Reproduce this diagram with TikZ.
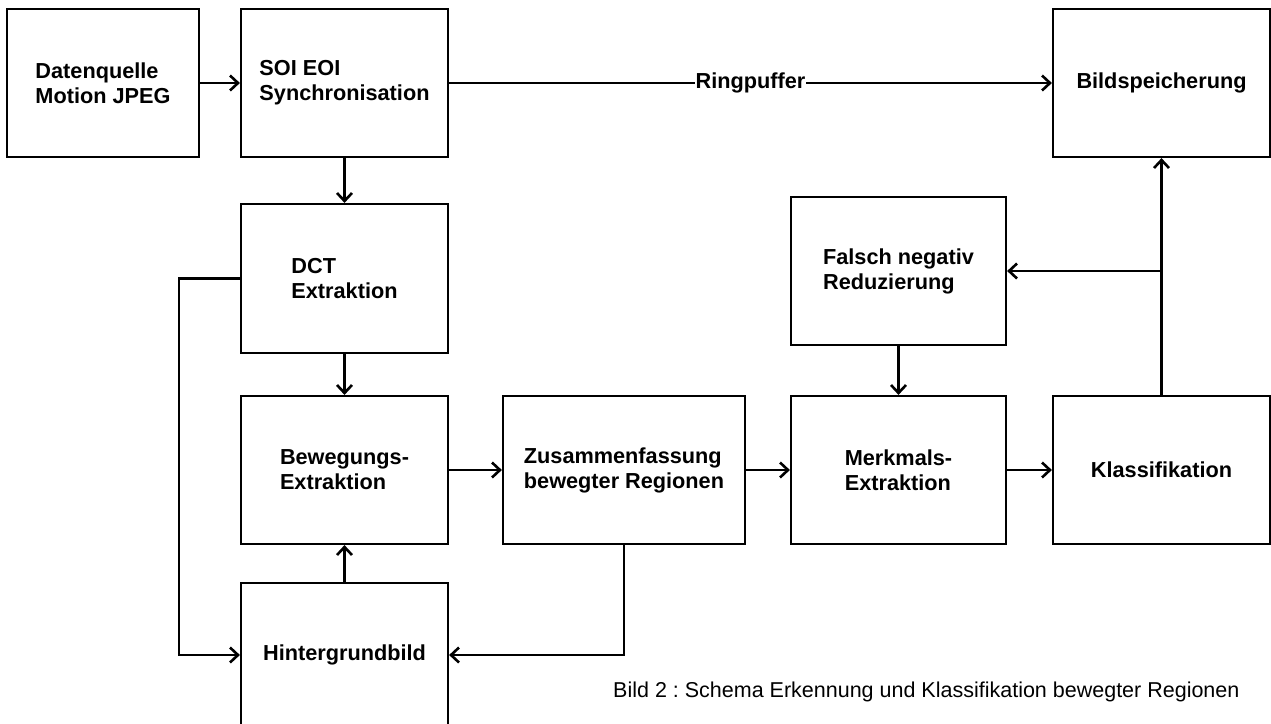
\documentclass[tikz,border=0pt]{standalone}
\usepackage{fontspec}
\setmainfont{Liberation Sans}
\usetikzlibrary{arrows.meta}
\frenchspacing
\begin{document}
\begin{tikzpicture}[x=1pt,y=-1pt,
  box/.style={draw=black,line width=2.2pt,fill=white,inner sep=0pt,align=left,
    font=\fontsize{21.7}{25}\selectfont\bfseries},
  conn/.style={line width=2.2pt},
  arr/.style={conn,-{Straight Barb[length=8pt,width=15pt,line width=2.6pt]}},
  lbl/.style={font=\fontsize{21.7}{25}\selectfont\bfseries,fill=white,inner sep=1pt}]
\useasboundingbox (0,0) rectangle (1271,723);
\clip (0,0) rectangle (1271,723);
\fill[white] (0,0) rectangle (1271,723);
% boxes: center, width, height
\node[box,minimum width=192pt,minimum height=148pt] (dq) at (103,83) {Datenquelle\\Motion JPEG};
\node[box,minimum width=207pt,minimum height=148pt] (soi) at (344.5,83) {SOI EOI\\Synchronisation};
\node[box,minimum width=217pt,minimum height=148pt] (bsp) at (1161.5,83) {Bildspeicherung};
\node[box,minimum width=207pt,minimum height=149pt] (dct) at (344.5,278.5) {DCT\\Extraktion};
\node[box,minimum width=215pt,minimum height=148pt] (fn) at (898.5,271) {Falsch negativ\\Reduzierung};
\node[box,minimum width=207pt,minimum height=148pt] (bew) at (344.5,470) {Bewegungs-\\Extraktion};
\node[box,minimum width=242pt,minimum height=148pt] (zus) at (624,470) {Zusammenfassung\\bewegter Regionen};
\node[box,minimum width=215pt,minimum height=148pt] (mer) at (898.5,470) {Merkmals-\\Extraktion};
\node[box,minimum width=217pt,minimum height=148pt] (kla) at (1161.5,470) {Klassifikation};
\node[box,minimum width=207pt,minimum height=144pt] (hin) at (344.5,655) {Hintergrundbild};
% caption
\node[anchor=base west,inner sep=0pt,font=\fontsize{21.5}{25}\selectfont] (cap) at (613,697)
  {Bild 2 : Schema Erkennung und Klassifikation bewegter Regionen};
% connectors
\draw[arr] (dq.east) -- (soi.west);
\draw[arr] (soi.east) -- node[lbl] (rp) {Ringpuffer} (bsp.west);
\draw[arr] (soi.south) -- (dct.north);
\draw[arr] (dct.south) -- (bew.north);
\coordinate (lft) at (179,278.5);
\draw[arr] (dct.west) -- (lft) |- (hin.west);
\draw[arr] (hin.north) -- (bew.south);
\draw[arr] (bew.east) -- (zus.west);
\draw[arr] (zus.south) |- (hin.east);
\draw[arr] (zus.east) -- (mer.west);
\draw[arr] (mer.east) -- (kla.west);
\draw[arr] (kla.north) -- (bsp.south);
\coordinate (br) at (kla.north |- fn.east);
\draw[arr] (br) -- (fn.east);
\draw[arr] (fn.south) -- (mer.north);
\end{tikzpicture}
\end{document}
